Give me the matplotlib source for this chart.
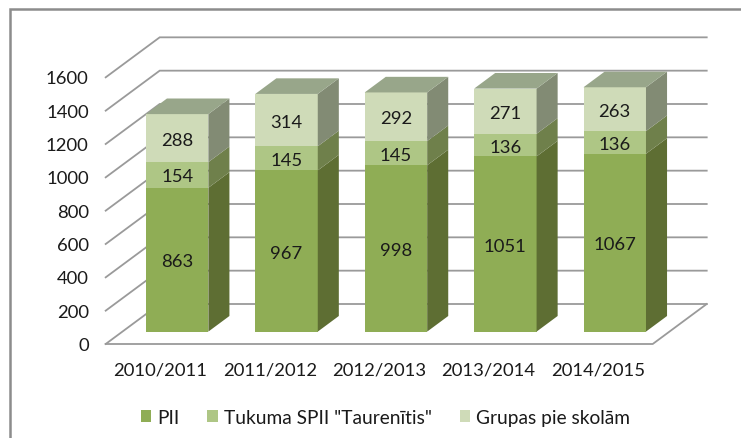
import matplotlib
matplotlib.use('Agg')
import matplotlib.pyplot as plt
from matplotlib.patches import Polygon, Rectangle

plt.rcParams['font.family'] = ['Lato', 'DejaVu Sans']

# Donnees
categories = ['2010/2011', '2011/2012', '2012/2013', '2013/2014', '2014/2015']
pii = [863, 967, 998, 1051, 1067]
taurenitis = [154, 145, 145, 136, 136]
grupas = [288, 314, 292, 271, 263]
y_ticks = [0, 200, 400, 600, 800, 1000, 1200, 1400, 1600]
series_names = ['PII', 'Tukuma SPII "Taurenītis"', 'Grupas pie skolām']

# Couleurs : face, cote, dessus
face_colors = ['#8FAD55', '#AEC685', '#CFDBB8']
side_colors = ['#5E6E33', '#6F804B', '#828B74']
top_color = '#98A68A'
grid_color = '#9A9A9A'
text_color = '#1A1A1A'

# Profondeur 3D en unites de donnees
depth_x = 54 / 109.4
depth_y = 240
bar_front = 0.31
bar_back = 0.70
bar_width = 0.571
font_size = 13.3

fig = plt.figure(figsize=(7.41, 4.39), dpi=100)
ax = fig.add_axes([0, 0, 1, 1])
ax.set_xlim(-1.466, 5.307)
ax.set_ylim(-564, 2070)
ax.axis('off')

# Cadre du graphique (gauche et haut)
fig.add_artist(plt.Line2D([0.0135, 0.0135, 1], [0, 0.977, 0.977], color='#8C8C8C', lw=1.8,
                          solid_joinstyle='miter'))


def shift(x, y, t):
    return (x + depth_x * t, y + depth_y * t)


# Quadrillage : mur gauche et mur du fond
left = -0.5
right = 4.5
for v in y_ticks:
    p0 = (left, v)
    p1 = shift(left, v, 1)
    p2 = shift(right, v, 1)
    ax.plot([p0[0], p1[0], p2[0]], [p0[1], p1[1], p2[1]], color=grid_color, lw=1.3, zorder=1,
            solid_joinstyle='miter')
# Plancher
p = [(left, 0), (right, 0), shift(right, 0, 1)]
ax.plot([c[0] for c in p], [c[1] for c in p], color=grid_color, lw=1.3, zorder=1)

# Barres empilees
for i in range(len(categories)):
    x0 = i - bar_width / 2
    x1 = i + bar_width / 2
    base = 0
    for vals, fc, sc in zip([pii, taurenitis, grupas], face_colors, side_colors):
        top = base + vals[i]
        a = shift(x0, base, bar_front)
        b = shift(x1, top, bar_front)
        ax.add_patch(Rectangle(a, b[0] - a[0], b[1] - a[1], fc=fc, ec='none', zorder=3))
        side = [shift(x1, base, bar_front), shift(x1, base, bar_back),
                shift(x1, top, bar_back), shift(x1, top, bar_front)]
        ax.add_patch(Polygon(side, closed=True, fc=sc, ec='none', zorder=3))
        cx = a[0] + (b[0] - a[0]) / 2
        cy = a[1] + (b[1] - a[1]) / 2
        ax.text(cx, cy - 9, str(vals[i]), ha='center', va='center', fontsize=font_size,
                color=text_color, zorder=4)
        base = top
    roof = [shift(x0, base, bar_front), shift(x1, base, bar_front),
            shift(x1, base, bar_back), shift(x0, base, bar_back)]
    ax.add_patch(Polygon(roof, closed=True, fc=top_color, ec='none', zorder=3))

# Libelles des axes
for v in y_ticks:
    ax.text(left - 0.155, v - 7, str(v), ha='right', va='center', fontsize=font_size, color=text_color)
for i, c in enumerate(categories):
    ax.text(i, -155, c, ha='center', va='center', fontsize=font_size, color=text_color)

# Legende
handles = [Rectangle((0, 0), 1, 1, fc=c, ec='none') for c in face_colors]
ax.legend(handles, series_names, loc='center', bbox_to_anchor=(0.52, 0.047), ncol=3, frameon=False,
          fontsize=13.8, labelcolor=text_color, handlelength=0.55, handleheight=0.55,
          handletextpad=0.3, columnspacing=1.46)

fig.savefig('out.png', dpi=100)
